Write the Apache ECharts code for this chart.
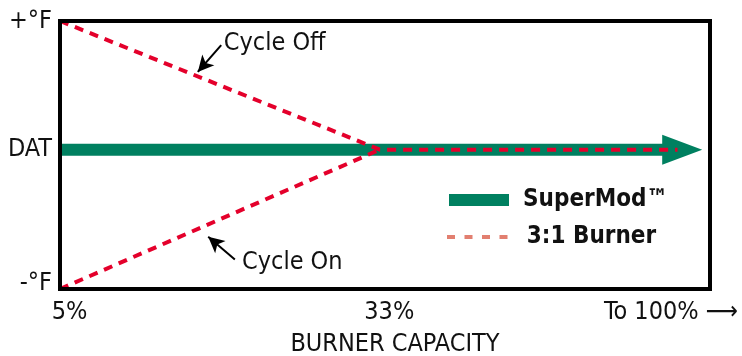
<!DOCTYPE html>
<html>
<head>
<meta charset="utf-8">
<script src="https://cdn.jsdelivr.net/npm/echarts/dist/echarts.min.js"></script>
<style>
html,body{margin:0;padding:0;background:#fff;}
#pic1{width:742px;height:356px;}
</style>
</head>
<body>
<div id="pic1"></div>
<script>
// x is position along the capacity axis (0 = 5%, 100 = right edge), y is temperature (-1 .. +1)
var xTicks = [0, 49.2, 100];
var xTickLabels = ['5%', '33%', 'To 100% \u27F6'];
var yTicks = [-1, 0.04, 1];
var yTickLabels = ['-°F', 'DAT', '+°F'];

var superModArrow = [[0, 0.04, 98.8]];           // start x, level, tip x
var burnerUpper = [[0, 1], [49.2, 0.04], [95, 0.04]];
var burnerLower = [[0, -1], [49.2, 0.04]];

var noteNames = ['Cycle Off', 'Cycle On'];
var noteTextAt = [[25.2, 0.83], [28, -0.8]];
var noteArrowFrom = [[24.8, 0.82], [26.9, -0.78]];
var noteArrowTo = [[21.2, 0.62], [22.8, -0.61]];

var FONT = "'Liberation Sans Narrow', 'DejaVu Sans Condensed', sans-serif";
var GREEN = '#008060';
var RED = '#e4002b';

var myChart = echarts.init(document.getElementById('pic1'));

var notes = noteNames.map(function (n, i) {
    return {name: n, coord: noteTextAt[i], value: n};
});
var noteLines = noteNames.map(function (n, i) {
    return [{coord: noteArrowFrom[i]}, {coord: noteArrowTo[i]}];
});

option = {
    animation: false,
    textStyle: {fontFamily: FONT},
    grid: {
        left: 60, top: 21, width: 650, height: 268,
        outerBoundsMode: 'none',
        show: true, borderColor: '#000', borderWidth: 4, z: 5
    },
    legend: [
        {
            left: 449, top: 188, padding: 0,
            itemWidth: 60, itemHeight: 12,
            data: [{name: 'SuperMod™', icon: 'rect', itemStyle: {color: GREEN}}],
            textStyle: {fontFamily: FONT, fontSize: 24, fontWeight: 'bold', color: '#111', padding: [0, 0, 0, 9]}
        },
        {
            left: 447, top: 225, padding: 0,
            itemWidth: 61, itemHeight: 4,
            data: [{
                name: '3:1 Burner',
                icon: 'path://M0,0h8v4h-8zM17.5,0h8v4h-8zM35,0h8v4h-8zM52.5,0h8v4h-8z',
                itemStyle: {color: '#e27f70'}
            }],
            textStyle: {fontFamily: FONT, fontSize: 24, fontWeight: 'bold', color: '#111', padding: [0, 0, 0, 14]}
        }
    ],
    xAxis: {
        type: 'value', min: 0, max: 100,
        axisLine: {show: false}, axisTick: {show: false}, splitLine: {show: false},
        axisLabel: {
            customValues: xTicks,
            margin: 11,
            formatter: function (v) {
                var i = xTicks.indexOf(v);
                return i === 2 ? '{r|' + xTickLabels[i] + '}' : '{l|' + xTickLabels[i] + '}';
            },
            rich: {
                l: {fontFamily: FONT, fontSize: 25, color: '#111', padding: [0, 0, 0, 19]},
                r: {fontFamily: FONT, fontSize: 25, color: '#111', padding: [0, 78, 0, 0]}
            }
        },
        name: 'BURNER CAPACITY',
        nameLocation: 'middle',
        nameGap: 43,
        nameTextStyle: {fontFamily: FONT, fontSize: 25, color: '#111', padding: [0, 0, 0, 20]}
    },
    yAxis: {
        type: 'value', min: -1, max: 1,
        axisLine: {show: false}, axisTick: {show: false}, splitLine: {show: false},
        axisLabel: {
            customValues: yTicks,
            margin: 8,
            formatter: function (v) {
                var i = yTicks.indexOf(v);
                return i === 0 ? '{b|' + yTickLabels[i] + '}' : '{n|' + yTickLabels[i] + '}';
            },
            rich: {
                n: {fontFamily: FONT, fontSize: 25, color: '#111'},
                b: {fontFamily: FONT, fontSize: 25, color: '#111', padding: [0, 0, 12, 0]}
            }
        }
    },
    series: [
        {
            name: 'SuperMod™',
            type: 'custom',
            clip: false,
            z: 2,
            itemStyle: {color: GREEN},
            encode: {x: [0, 2], y: 1},
            data: superModArrow,
            renderItem: function (params, api) {
                var a = api.coord([api.value(0), api.value(1)]);
                var b = api.coord([api.value(2), api.value(1)]);
                var y = a[1], hx = b[0] - 40;
                return {
                    type: 'polygon',
                    shape: {points: [
                        [a[0], y - 6], [hx, y - 6], [hx, y - 15], [b[0], y],
                        [hx, y + 15], [hx, y + 6], [a[0], y + 6]
                    ]},
                    style: {fill: GREEN}
                };
            }
        },
        {
            name: '3:1 Burner',
            type: 'line',
            z: 3,
            symbol: 'none',
            lineStyle: {color: RED, width: 4, type: [9, 7]},
            itemStyle: {color: RED},
            data: burnerUpper
        },
        {
            name: '3:1 Burner',
            type: 'line',
            z: 3,
            symbol: 'none',
            lineStyle: {color: RED, width: 4, type: [9, 7]},
            itemStyle: {color: RED},
            data: burnerLower
        },
        {
            name: 'notes',
            type: 'line',
            data: [],
            silent: true,
            markLine: {
                silent: true,
                symbol: ['none', 'arrow'],
                symbolSize: [12, 16],
                label: {show: false},
                lineStyle: {color: '#000', width: 2, type: 'solid'},
                data: noteLines
            },
            markPoint: {
                silent: true,
                symbol: 'circle',
                symbolSize: 0,
                label: {
                    show: true, position: 'right', distance: 0,
                    formatter: '{b}',
                    fontFamily: FONT, fontSize: 25, color: '#111'
                },
                data: notes
            }
        }
    ]
};

myChart.setOption(option);
</script>
</body>
</html>
